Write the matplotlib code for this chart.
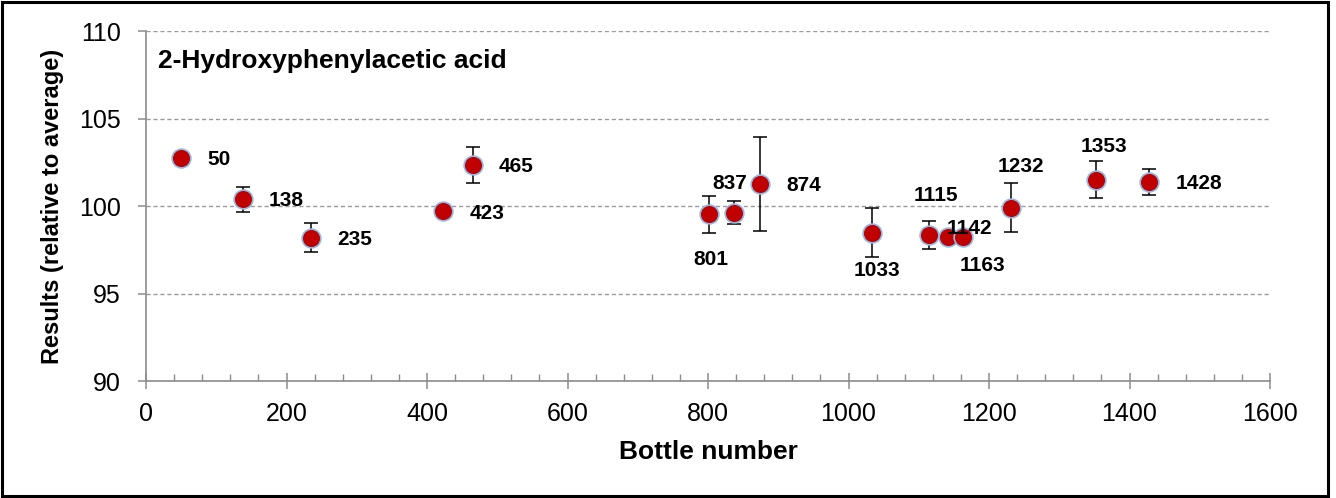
import matplotlib
matplotlib.use("Agg")
import matplotlib.pyplot as plt
from matplotlib.patches import Rectangle
from matplotlib.ticker import MultipleLocator

plt.rcParams['font.family'] = ['Liberation Sans', 'DejaVu Sans']

# Data
bottles = [50, 138, 235, 423, 465, 801, 837, 874, 1033, 1115, 1142, 1163, 1232, 1353, 1428]
results = [102.77, 100.38, 98.19, 99.71, 102.37, 99.52, 99.62, 101.28, 98.48, 98.34,
           98.21, 98.21, 99.89, 101.51, 101.37]
errors = [0.0, 0.70, 0.84, 0.0, 1.03, 1.08, 0.67, 2.69, 1.40, 0.80, 0.0, 0.0, 1.40, 1.04, 0.73]
point_labels = [str(b) for b in bottles]
title_text = "2-Hydroxyphenylacetic acid"
x_ticks = [0, 200, 400, 600, 800, 1000, 1200, 1400, 1600]
y_ticks = [90, 95, 100, 105, 110]

# label layout: (dx px, dy px downward, ha)
label_layout = [(26, 2, 'left'), (26, 1, 'left'), (26, 2, 'left'), (26, 2, 'left'),
                (26, 2, 'left'), (2, 45, 'center'), (-4, -29, 'center'), (26, 2, 'left'),
                (5, 38, 'center'), (7, -40, 'center'), (-2, -9, 'left'), (19, 28, 'center'),
                (9, -41, 'center'), (7, -33, 'center'), (26, 1, 'left')]

W, H = 1336, 498
fig = plt.figure(figsize=(W / 100, H / 100), dpi=100)
ax = fig.add_axes([146 / W, 1 - 381 / H, (1270 - 146) / W, (381 - 31) / H])

ax.errorbar(bottles, results, yerr=errors, fmt='none', ecolor='black',
            elinewidth=1.1, capsize=4.8, capthick=1.1, zorder=3)
ax.plot(bottles, results, linestyle='none', marker='o', markersize=13.5,
        markerfacecolor='#C00000', markeredgecolor='#8DBCE8', markeredgewidth=1.2, zorder=4)

for b, r, lab, (dx, dy, ha) in zip(bottles, results, point_labels, label_layout):
    ax.annotate(lab, (b, r), xytext=(dx * 0.72, -dy * 0.72), textcoords='offset points',
                ha=ha, va='center', fontsize=15, fontweight='bold', zorder=5)

ax.set_xlim(0, 1600)
ax.set_ylim(90, 110)
ax.set_xticks(x_ticks)
ax.set_yticks(y_ticks)
ax.xaxis.set_minor_locator(MultipleLocator(40))

for s in ['top', 'right']:
    ax.spines[s].set_visible(False)
for s in ['left', 'bottom']:
    ax.spines[s].set_color('#8C8C8C')
    ax.spines[s].set_linewidth(1.2)

ax.grid(axis='y', which='major', color='#9A9A9A', linestyle=(0, (3, 2)), linewidth=1.0, zorder=0)
ax.set_axisbelow(True)

ax.tick_params(axis='x', which='major', direction='inout', length=11, width=1.1,
               color='#8C8C8C', labelsize=18, pad=9.5)
ax.tick_params(axis='x', which='minor', direction='in', length=5, width=1.0, color='#8C8C8C')
ax.tick_params(axis='y', which='major', direction='out', length=6, width=1.1,
               color='#8C8C8C', labelsize=18, pad=12)

ax.set_xlabel('Bottle number', fontsize=19, fontweight='bold', labelpad=10)
ax.set_ylabel('Results (relative to average)', fontsize=17, fontweight='bold', labelpad=11)

ax.text((158 - 146) / 1124, (381 - 68) / 350, title_text, transform=ax.transAxes,
        fontsize=19, fontweight='bold', ha='left', va='baseline')

fig.patches.append(Rectangle((2 / W, 2 / H), (1328 - 2) / W, (496 - 2) / H,
                             transform=fig.transFigure, fill=False, edgecolor='black',
                             linewidth=2.2))

fig.savefig('out.png', dpi=100)
